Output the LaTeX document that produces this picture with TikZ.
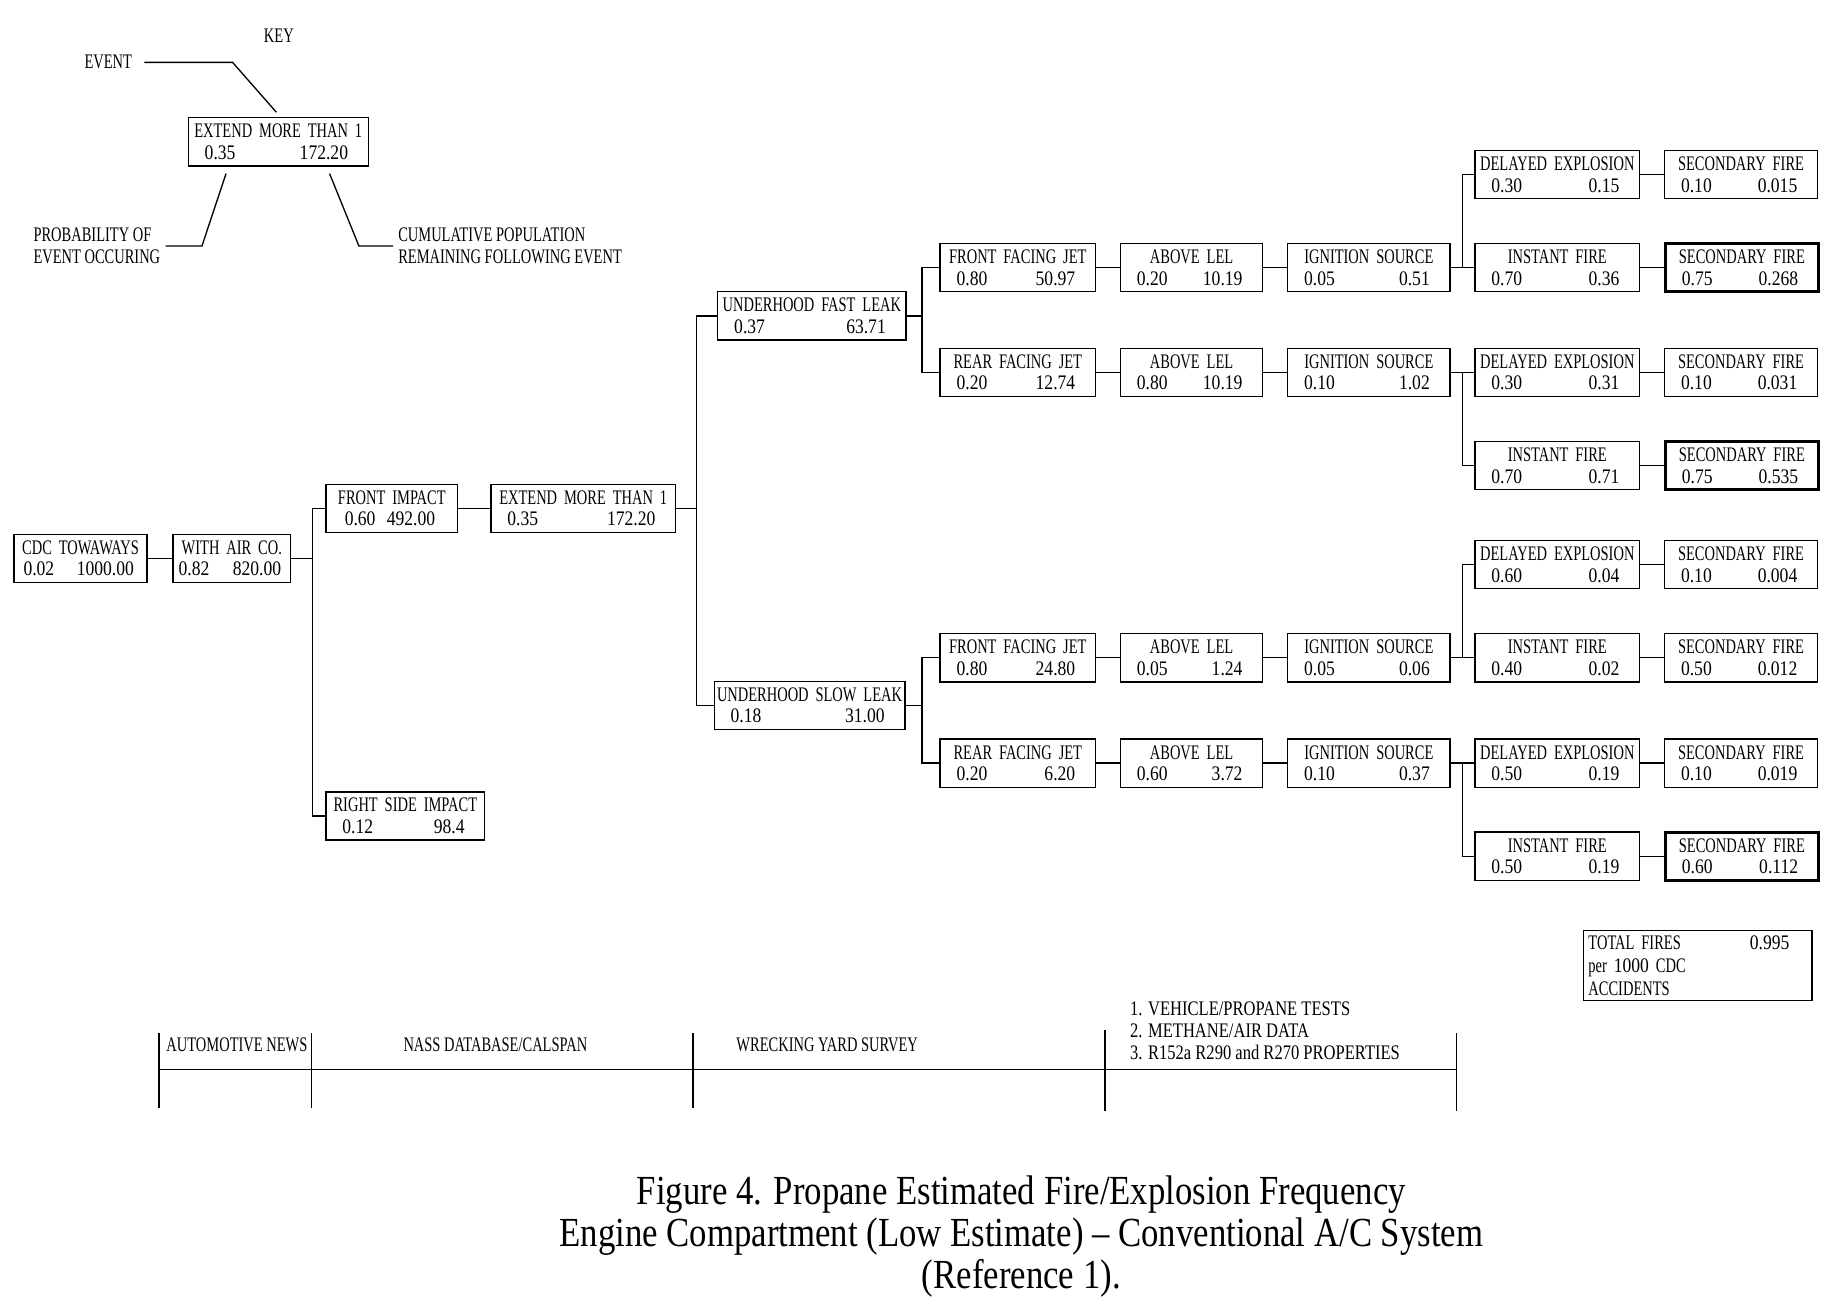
\documentclass[tikz,border=0pt]{standalone}
\usepackage{fontspec}
\setmainfont{Liberation Serif}
\usetikzlibrary{positioning}
\newfontfamily\plotfont[FakeStretch=0.70]{Liberation Serif}
\newfontfamily\notefont[FakeStretch=0.80]{Liberation Serif}
\newfontfamily\digitfont[FakeStretch=0.85]{Liberation Serif}
\newfontfamily\capfont[FakeStretch=0.84]{Liberation Serif}
\newcommand{\nums}[3][0.35cm]{\hspace*{#1}{\digitfont #2}\hfill{\digitfont #3}\rule{\dimexpr#1+0.08cm\relax}{0pt}}

\begin{document}
\begin{tikzpicture}[
  x=0.025cm, y=-0.025cm,
  node distance=0.5cm,
  line width=0.8pt,
  evt/.style={draw, line width=0.8pt, text width=#1, inner xsep=0pt, inner ysep=2pt, minimum height=1.025cm, align=center, font=\fontsize{12.5}{13}\plotfont},
  endevt/.style={evt=#1, line width=1.8pt},
  lbl/.style={inner sep=2.8pt, font=\fontsize{12.5}{13.5}\plotfont},
]

\fill[white] (0,0) rectangle (1568,1112);
\useasboundingbox (0,0) rectangle (1568,1112);

% key
\node[lbl] (keylbl) at (237,30) {KEY};
\node[lbl] (evlbl) at (92,53) {EVENT};
\node[evt=3.825cm] (keybox) at (236.5,120.5) {EXTEND MORE THAN 1\\\nums{0.35}{172.20}};
\node[lbl, anchor=west, align=left] (problbl) at (24,209) {PROBABILITY OF\\EVENT OCCURING};
\node[lbl, anchor=west, align=left] (cumlbl) at (334,209) {CUMULATIVE POPULATION\\REMAINING FOLLOWING EVENT};
\coordinate (kp) at ([xshift=-1.11cm,yshift=-0.15cm]keybox.south);
\coordinate (kc) at ([xshift=1.09cm,yshift=-0.15cm]keybox.south);

\draw ([xshift=0.15cm]evlbl.east) -- ++(75,0) -- ([xshift=-0.04cm,yshift=0.1cm]keybox.north);
\draw (problbl.east) -- ++(31,0) -- (kp);
\draw (cumlbl.west) -- ++(-29,0) -- (kc);

% trunk
\node[evt=2.825cm] (cdc) at (68.5,474.5) {CDC TOWAWAYS\\\nums[0.2cm]{0.02}{1000.00}};
\node[evt=2.5cm] (air) at (197,474.5) {WITH AIR CO.\\\nums[0.12cm]{0.82}{820.00}};
\node[evt=2.8cm] (fimp) at (333,432) {FRONT IMPACT\\\nums[0.4cm]{0.60}{492.00}};
\node[evt=3.375cm] (rimp) at (344.5,693.5) {RIGHT SIDE IMPACT\\\nums{0.12}{98.4}};
\node[evt=3.925cm, right=0.675cm of fimp] (ext) {EXTEND MORE THAN 1\\\nums{0.35}{172.20}};
\node[evt=4.0cm] (fast) at (690,268.5) {UNDERHOOD FAST LEAK\\\nums{0.37}{63.71}};
\node[evt=4.05cm] (slow) at (688,599.5) {UNDERHOOD SLOW LEAK\\\nums{0.18}{31.00}};

\draw (cdc) -- (air);
\draw (air.east) -- ++(18,0) coordinate (j1) |- (fimp.west);
\draw (j1) |- (rimp.west);
\draw (fimp) -- (ext);
\draw (ext.east) -- ++(17,0) coordinate (j2) |- (fast.west);
\draw (j2) |- (slow.west);

% fast leak, front jet
\node[evt=3.3cm] (fjet1) at (865,227.5) {FRONT FACING JET\\\nums{0.80}{50.97}};
\node[evt=3.025cm, right=of fjet1] (lel1) {ABOVE LEL\\\nums{0.20}{10.19}};
\node[evt=3.45cm, right=of lel1] (ign1) {IGNITION SOURCE\\\nums{0.05}{0.51}};
\node[evt=3.5cm, right=of ign1] (inst1) {INSTANT FIRE\\\nums{0.70}{0.36}};
\node[evt=3.5cm, above=0.925cm of inst1] (del1) {DELAYED EXPLOSION\\\nums{0.30}{0.15}};
\node[evt=3.25cm, right=of del1] (sec1) {SECONDARY FIRE\\\nums{0.10}{0.015}};
\node[endevt=3.25cm, right=of inst1] (sec2) {SECONDARY FIRE\\\nums{0.75}{0.268}};

% fast leak, rear jet
\node[evt=3.3cm] (rjet1) at (865,316.5) {REAR FACING JET\\\nums{0.20}{12.74}};
\node[evt=3.025cm, right=of rjet1] (lel2) {ABOVE LEL\\\nums{0.80}{10.19}};
\node[evt=3.45cm, right=of lel2] (ign2) {IGNITION SOURCE\\\nums{0.10}{1.02}};
\node[evt=3.5cm, right=of ign2] (del2) {DELAYED EXPLOSION\\\nums{0.30}{0.31}};
\node[evt=3.5cm, below=0.925cm of del2] (inst2) {INSTANT FIRE\\\nums{0.70}{0.71}};
\node[evt=3.25cm, right=of del2] (sec3) {SECONDARY FIRE\\\nums{0.10}{0.031}};
\node[endevt=3.25cm, right=of inst2] (sec4) {SECONDARY FIRE\\\nums{0.75}{0.535}};

\draw (fast.east) -- ++(13,0) coordinate (j3) |- (fjet1.west);
\draw (j3) |- (rjet1.west);
\draw (fjet1) -- (lel1);
\draw (lel1) -- (ign1);
\draw (ign1) -- (inst1);
\draw (ign1.east) -- ++(10,0) coordinate (j4) |- (del1.west);
\draw (del1) -- (sec1);
\draw (inst1) -- (sec2);
\draw (rjet1) -- (lel2);
\draw (lel2) -- (ign2);
\draw (ign2) -- (del2);
\draw (ign2.east) -- ++(10,0) coordinate (j5) |- (inst2.west);
\draw (del2) -- (sec3);
\draw (inst2) -- (sec4);

% slow leak, front jet
\node[evt=3.3cm] (fjet2) at (865,559) {FRONT FACING JET\\\nums{0.80}{24.80}};
\node[evt=3.025cm, right=of fjet2] (lel3) {ABOVE LEL\\\nums{0.05}{1.24}};
\node[evt=3.45cm, right=of lel3] (ign3) {IGNITION SOURCE\\\nums{0.05}{0.06}};
\node[evt=3.5cm, right=of ign3] (inst3) {INSTANT FIRE\\\nums{0.40}{0.02}};
\node[evt=3.5cm, above=0.925cm of inst3] (del3) {DELAYED EXPLOSION\\\nums{0.60}{0.04}};
\node[evt=3.25cm, right=of del3] (sec5) {SECONDARY FIRE\\\nums{0.10}{0.004}};
\node[evt=3.25cm, right=of inst3] (sec6) {SECONDARY FIRE\\\nums{0.50}{0.012}};

% slow leak, rear jet
\node[evt=3.3cm] (rjet2) at (865,648.5) {REAR FACING JET\\\nums{0.20}{6.20}};
\node[evt=3.025cm, right=of rjet2] (lel4) {ABOVE LEL\\\nums{0.60}{3.72}};
\node[evt=3.45cm, right=of lel4] (ign4) {IGNITION SOURCE\\\nums{0.10}{0.37}};
\node[evt=3.5cm, right=of ign4] (del4) {DELAYED EXPLOSION\\\nums{0.50}{0.19}};
\node[evt=3.5cm, below=0.925cm of del4] (inst4) {INSTANT FIRE\\\nums{0.50}{0.19}};
\node[evt=3.25cm, right=of del4] (sec7) {SECONDARY FIRE\\\nums{0.10}{0.019}};
\node[endevt=3.25cm, right=of inst4] (sec8) {SECONDARY FIRE\\\nums{0.60}{0.112}};

\draw (slow.east) -- ++(14,0) coordinate (j6) |- (fjet2.west);
\draw (j6) |- (rjet2.west);
\draw (fjet2) -- (lel3);
\draw (lel3) -- (ign3);
\draw (ign3) -- (inst3);
\draw (ign3.east) -- ++(10,0) coordinate (j7) |- (del3.west);
\draw (del3) -- (sec5);
\draw (inst3) -- (sec6);
\draw (rjet2) -- (lel4);
\draw (lel4) -- (ign4);
\draw (ign4) -- (del4);
\draw (ign4.east) -- ++(10,0) coordinate (j8) |- (inst4.west);
\draw (del4) -- (sec7);
\draw (inst4) -- (sec8);

% total
\node[draw, text width=4.65cm, inner xsep=0.1cm, inner ysep=2pt, minimum height=1.475cm, align=left, font=\fontsize{12.5}{13.8}\plotfont] (total) at (1443,820.5)
  {TOTAL FIRES\hfill{\digitfont 0.995}\rule{0.38cm}{0pt}\\per {\digitfont 1000} CDC\\ACCIDENTS};

% data sources
\draw (135,878) -- (135,942) (265,878) -- (265,942) (589,878) -- (589,942)
      (939,875) -- (939,944) (1238,878) -- (1238,944);
\draw (135,909) -- (1238,909);
\node[lbl, anchor=west] (srcauto) at (137,888) {AUTOMOTIVE NEWS};
\node[lbl] (srcnass) at (421,888) {NASS DATABASE/CALSPAN};
\node[lbl] (srcwreck) at (703,888) {WRECKING YARD SURVEY};
\node[lbl, anchor=west, align=left, font=\fontsize{12.5}{13.5}\notefont] (srctest) at (956,876) {1. VEHICLE/PROPANE TESTS\\2. METHANE/AIR DATA\\3. R152a R290 and R270 PROPERTIES};

% caption
\node[font=\fontsize{25}{25.5}\capfont, align=center] (caption) at (868,1051)
  {Figure 4. Propane Estimated Fire/Explosion Frequency\\Engine Compartment (Low Estimate) – Conventional A/C System\\(Reference 1).};

\end{tikzpicture}
\end{document}
